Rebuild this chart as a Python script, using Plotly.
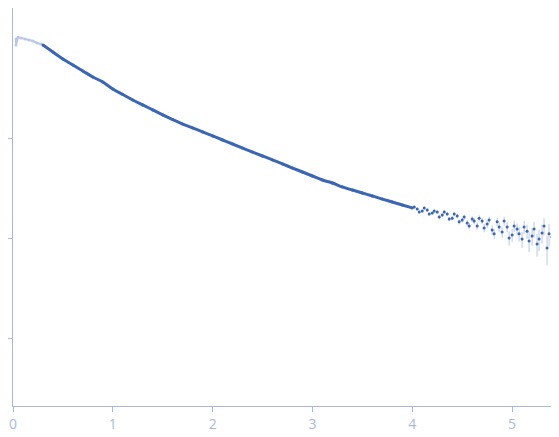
import plotly.graph_objects as go

q_low = [0.03, 0.03, 0.05, 0.08, 0.12, 0.16, 0.20, 0.24, 0.28]
i_low = [9.77, 8.5, 10.2, 10.0, 9.77, 9.55, 9.33, 8.91, 8.71]

q_main = [0.3,0.4,0.5,0.6,0.7,0.8,0.9,1.0,1.1,1.2,1.3,1.4,1.5,1.6,1.7,1.8,1.9,2.0,
          2.1,2.2,2.3,2.4,2.5,2.6,2.7,2.8,2.9,3.0,3.1,3.2,3.3,3.4,3.5,3.6,3.7,3.8,3.9,4.0]
i_main = [8.51,7.24,6.17,5.37,4.68,4.07,3.63,3.09,2.72,2.40,2.14,1.91,1.70,1.53,1.38,1.26,1.15,1.05,
          0.955,0.871,0.794,0.724,0.661,0.603,0.550,0.501,0.457,0.417,0.380,0.355,0.324,0.302,0.282,0.263,0.245,0.229,0.214,0.200]

q_tail = [4.05,4.1,4.15,4.2,4.25,4.3,4.35,4.4,4.45,4.5,4.55,4.6,4.65,4.7,4.75,4.8,4.85,4.9,4.95,5.0,
          5.05,5.1,5.15,5.2,5.25,5.3,5.35,5.4,5.45,5.5,5.52,5.54,5.55,5.53,5.48,5.42,
          4.02,4.07,4.12,4.17,4.22,4.27,4.32,4.37,4.42,4.47,4.52,4.57,4.62,4.67,4.72,4.77,4.82,4.87,4.92,4.97,
          5.02,5.07,5.12,5.17,5.22,5.27,5.32,5.37,5.44,5.46,5.51,5.545]
i_tail = [0.195,0.186,0.191,0.178,0.182,0.170,0.174,0.158,0.166,0.151,0.141,0.155,0.132,0.148,0.138,0.120,0.145,0.115,0.129,0.107,
          0.123,0.0977,0.117,0.105,0.0871,0.112,0.0794,0.102,0.120,0.0525,0.145,0.0479,0.0138,0.0851,0.0741,0.129,
          0.204,0.182,0.200,0.174,0.186,0.162,0.182,0.155,0.174,0.145,0.162,0.132,0.148,0.158,0.126,0.151,0.110,0.129,0.148,0.100,
          0.132,0.110,0.129,0.0933,0.123,0.0977,0.132,0.110,0.0912,0.158,0.105,0.0955]
e_tail = [0.006,0.006,0.007,0.007,0.007,0.008,0.008,0.008,0.009,0.009,0.010,0.010,0.011,0.011,0.012,0.013,0.013,0.014,0.015,0.016,
          0.017,0.018,0.019,0.021,0.022,0.024,0.026,0.028,0.030,0.035,0.045,0.05,0.03,0.04,0.03,0.04,
          0.006,0.006,0.007,0.007,0.007,0.008,0.008,0.008,0.009,0.009,0.010,0.010,0.011,0.011,0.012,0.013,0.013,0.014,0.015,0.016,
          0.017,0.018,0.019,0.021,0.022,0.024,0.026,0.028,0.030,0.035,0.04,0.045]

dark = "#3a66b8"
light = "#b9c8e8"
axc = "#a9b9dd"

fig = go.Figure()
fig.add_trace(go.Scatter(x=q_low, y=i_low, mode="markers+lines", marker=dict(color=light, size=3),
                         line=dict(color=light, width=2), showlegend=False))
fig.add_trace(go.Scatter(x=q_main, y=i_main, mode="lines+markers", marker=dict(color=dark, size=3),
                         line=dict(color=dark, width=3, shape="spline"), showlegend=False))
fig.add_trace(go.Scatter(x=q_tail, y=i_tail, mode="markers", marker=dict(color=dark, size=3),
                         error_y=dict(type="data", array=e_tail, color=light, thickness=1, width=0),
                         showlegend=False))
fig.update_layout(
    width=559, height=437, margin=dict(l=5, r=0, t=0, b=39, autoexpand=False),
    plot_bgcolor="white", paper_bgcolor="white",
    font=dict(family="Open Sans", size=14, color=axc),
    xaxis=dict(range=[0, 5.55], tickvals=[0,1,2,3,4,5], showgrid=False, zeroline=False,
               showline=True, linecolor=axc, ticks="outside", tickcolor=axc, ticklen=5, automargin=False),
    yaxis=dict(type="log", range=[-2.68, 1.30], tickvals=[0.01, 0.1, 1], showticklabels=False,
               showgrid=False, zeroline=False, showline=True, linecolor=axc, automargin=False,
               ticks="outside", tickcolor=axc, ticklen=5),
)
fig.write_html("out.html")
